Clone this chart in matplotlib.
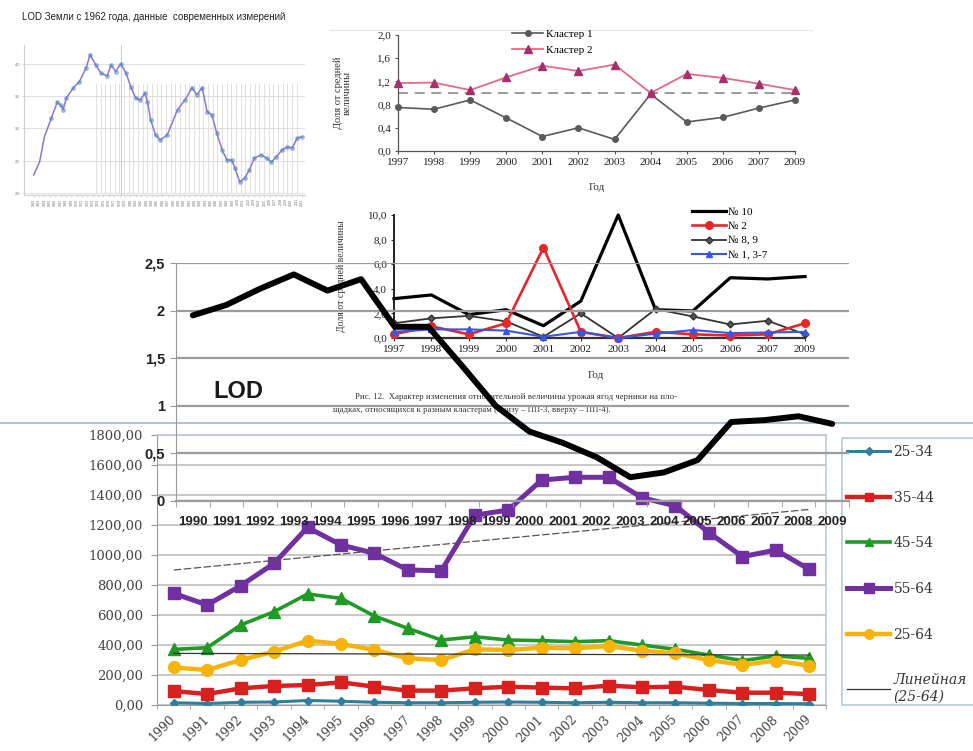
import matplotlib
matplotlib.use('Agg')
import matplotlib.pyplot as plt
import numpy as np
from matplotlib.lines import Line2D
from matplotlib.patches import Rectangle

# ---------------- data ----------------
# top-left picture: LOD since 1962
lod62_years = [1962.0, 1963.1, 1964.0, 1965.3, 1966.4, 1967.0, 1967.5, 1968.1, 1969.4, 1970.5,
               1971.8, 1972.5, 1973.6, 1974.5, 1975.7, 1976.4, 1977.3, 1978.2, 1979.2, 1980.1,
               1981.0, 1981.9, 1982.7, 1983.2, 1983.8, 1984.7, 1985.6, 1986.9, 1988.8, 1990.2,
               1991.5, 1992.4, 1993.4, 1994.3, 1995.2, 1996.1, 1997.1, 1998.0, 1998.9, 1999.5,
               2000.4, 2001.3, 2002.2, 2003.1, 2004.4, 2005.4, 2006.3, 2007.2, 2008.3, 2009.2,
               2010.2, 2011.1, 2012.0]
lod62_vals = [2.28, 2.48, 2.87, 3.16, 3.41, 3.36, 3.29, 3.47, 3.63, 3.72,
              3.94, 4.14, 3.98, 3.86, 3.81, 3.98, 3.88, 4.00, 3.86, 3.64,
              3.47, 3.44, 3.55, 3.41, 3.13, 2.90, 2.82, 2.90, 3.29, 3.44,
              3.63, 3.52, 3.63, 3.26, 3.21, 2.93, 2.67, 2.51, 2.51, 2.39,
              2.17, 2.23, 2.36, 2.54, 2.59, 2.54, 2.48, 2.56, 2.67, 2.71,
              2.70, 2.85, 2.87]
lod62_ticks = [4.0, 3.5, 3.0, 2.5, 2.0]
lod62_ticklabels = ['4,0', '3,5', '3,0', '2,5', '2,0']

# cluster chart
cluster_years = ['1997', '1998', '1999', '2000', '2001', '2002', '2003', '2004', '2005', '2006', '2007', '2009']
cluster1 = [0.75, 0.72, 0.88, 0.57, 0.25, 0.40, 0.20, 0.98, 0.50, 0.58, 0.74, 0.88]
cluster2 = [1.17, 1.18, 1.05, 1.27, 1.47, 1.38, 1.49, 1.00, 1.33, 1.26, 1.16, 1.05]
mean_level = 1.0
cluster_yticks = [0.0, 0.4, 0.8, 1.2, 1.6, 2.0]
cluster_yticklabels = ['0,0', '0,4', '0,8', '1,2', '1,6', '2,0']

# plots chart
plot_years = cluster_years
n10 = [3.2, 3.5, 1.9, 2.3, 1.0, 3.0, 10.0, 2.3, 2.2, 4.9, 4.8, 5.0]
n2 = [0.3, 0.95, 0.3, 1.2, 7.35, 0.5, 0.0, 0.5, 0.3, 0.2, 0.3, 1.2]
n89 = [1.2, 1.6, 1.8, 1.35, 0.1, 2.0, 0.0, 2.35, 1.75, 1.1, 1.4, 0.3]
n137 = [0.5, 0.7, 0.7, 0.6, 0.1, 0.5, 0.0, 0.35, 0.65, 0.4, 0.45, 0.5]
plot_yticks = [0, 2, 4, 6, 8, 10]
plot_yticklabels = ['0,0', '2,0', '4,0', '6,0', '8,0', '10,0']

# LOD 1990-2009
lod_years = [str(y) for y in range(1990, 2010)]
lod = [1.95, 2.06, 2.23, 2.38, 2.21, 2.33, 1.83, 1.83, 1.42, 1.00,
       0.73, 0.61, 0.46, 0.25, 0.30, 0.43, 0.83, 0.85, 0.89, 0.81]
lod_yticks = [0, 0.5, 1, 1.5, 2, 2.5]
lod_yticklabels = ['0', '0,5', '1', '1,5', '2', '2,5']

# age groups
age_years = [str(y) for y in range(1990, 2010)]
a2534 = [15, 10, 18, 20, 30, 25, 18, 15, 15, 18, 20, 18, 15, 18, 15, 15, 12, 10, 10, 8]
a3544 = [93, 73, 111, 127, 133, 151, 122, 96, 96, 111, 122, 116, 111, 129, 118, 122, 100, 82, 82, 73]
a4554 = [371, 382, 533, 622, 740, 711, 593, 511, 433, 455, 433, 429, 422, 429, 400, 371, 333, 296, 327, 311]
a5564 = [744, 667, 795, 944, 1184, 1067, 1011, 900, 895, 1265, 1300, 1500, 1518, 1518, 1382, 1327, 1149, 989, 1033, 904]
a2564 = [251, 233, 300, 356, 429, 407, 367, 311, 300, 371, 367, 382, 378, 393, 362, 344, 300, 267, 296, 262]
trend_2564 = [344, 333]
trend_rise = [900, 1304]
age_yticks = list(range(0, 1801, 200))
age_yticklabels = ['%d,00' % v for v in age_yticks]

# ---------------- figure ----------------
W, H = 973, 751
fig = plt.figure(figsize=(W / 100, H / 100), dpi=100)
fig.patch.set_facecolor('white')
SERIF = ['Liberation Serif', 'DejaVu Serif']
SANS = ['Liberation Sans', 'DejaVu Sans']
DSERIF = ['DejaVu Serif']


def fx(x):
    return x / W


def fy(y):
    return 1 - y / H


def box(l, t, r, b, z=1):
    ax = fig.add_axes([l / W, 1 - b / H, (r - l) / W, (b - t) / H])
    ax.set_zorder(z)
    ax.patch.set_alpha(0)
    return ax


# ---- top-left picture ----
fig.text(fx(22), fy(17), 'LOD Земли с 1962 года, данные  современных измерений',
         family=SANS, fontsize=7, va='center', ha='left', color='#222222')
ax0 = box(24, 45, 305, 195, z=1)
ax0.set_xlim(1960.2, 2012.55)
ax0.set_ylim(1.97, 4.29)
for v in lod62_ticks:
    ax0.axhline(v, color='#e0e0e0', lw=0.8, zorder=0)
ax0.vlines(np.arange(1973.6, 2011.6, 0.87), 2.0, 3.71, color='#dcdcdc', lw=0.6, zorder=0)
ax0.axvline(1978.2, color='#cfcfcf', lw=0.8, zorder=0)
ax0.plot(lod62_years, lod62_vals, color='#8878d4', lw=1.1, zorder=2)
ax0.plot(lod62_years[3:], lod62_vals[3:], 'o', ms=2.6, color='#5b86c4', alpha=0.45, zorder=3)
for s in ['top', 'right']:
    ax0.spines[s].set_visible(False)
ax0.spines['left'].set_color('#d0d0d0')
ax0.spines['bottom'].set_color('#d0d0d0')
ax0.set_yticks(lod62_ticks)
ax0.set_yticklabels(lod62_ticklabels, fontsize=2.8, color='#777777', family=SANS)
ax0.set_xticks(list(range(1962, 2013)))
ax0.set_xticklabels([str(y) for y in range(1962, 2013)], fontsize=2.3, rotation=90,
                    color='#666666', family=SANS)
ax0.tick_params(length=1.5, width=0.4, color='#bbbbbb', pad=1)

# ---- cluster chart ----
fig.add_artist(Line2D([fx(330), fx(812)], [fy(30), fy(30)], color='#e6e6e6', lw=0.8))
ax1 = box(398, 35, 795, 151, z=2)
x12 = np.arange(len(cluster_years))
ax1.set_xlim(0, 11)
ax1.set_ylim(0, 2.0)
ax1.axhline(mean_level, color='#8a8a8a', lw=1.2, dashes=(6, 4), zorder=1)
ax1.plot(x12, cluster1, color='#5a5a5a', lw=1.2, marker='o', ms=4, clip_on=False, zorder=3,
         label='Кластер 1')
ax1.plot(x12, cluster2, color='#e46a85', lw=1.3, marker='^', ms=5.5, mfc='#a8306a', mec='#a8306a',
         clip_on=False, zorder=3, label='Кластер 2')
ax1.set_yticks(cluster_yticks)
ax1.set_yticklabels(cluster_yticklabels, family=SERIF, fontsize=8, color='#222222')
ax1.set_xticks(x12)
ax1.set_xticklabels(cluster_years, family=SERIF, fontsize=8, color='#222222')
ax1.tick_params(length=2.5, width=0.8, color='#555555', pad=2.5)
for s in ['top', 'right']:
    ax1.spines[s].set_visible(False)
for s in ['left', 'bottom']:
    ax1.spines[s].set_color('#555555')
    ax1.spines[s].set_linewidth(0.9)
ax1.set_xlabel('Год', family=SERIF, fontsize=8, color='#333333')
ax1.xaxis.set_label_coords(0.5, -(183 - 151) / 116)
ax1.set_ylabel('Доля от средней\nвеличины', family=SERIF, fontsize=7.5, color='#333333',
               linespacing=1.0)
ax1.yaxis.set_label_coords(-(398 - 352) / 397, 0.5)
ax1.legend(loc='upper left', bbox_to_anchor=(fx(512), fy(29)), bbox_transform=fig.transFigure,
           frameon=False, prop={'family': SERIF, 'size': 8}, handlelength=2.8,
           handletextpad=0.3, labelspacing=0.55, borderpad=0, borderaxespad=0)

# ---- bottom chart (age groups) ----
fig.add_artist(Line2D([0, 1], [fy(423), fy(423)], color='#a9c2db', lw=1.4))
ax4 = fig.add_axes([157 / W, 1 - 705 / H, (826 - 157) / W, (705 - 435) / H])
ax4.set_zorder(3)
ax4.set_facecolor('white')
x20 = np.arange(20)
ax4.set_xlim(-0.5, 19.5)
ax4.set_ylim(0, 1800)
ax4.set_yticks(age_yticks)
ax4.set_yticklabels(age_yticklabels, family=DSERIF, fontsize=9.5, color='#444444')
ax4.set_xticks(x20)
ax4.set_xticklabels(age_years, family=DSERIF, fontsize=9, color='#444444', rotation=45,
                    ha='right', va='center', rotation_mode='anchor')
ax4.set_xticks(np.arange(-0.5, 20, 1), minor=True)
ax4.tick_params(axis='x', which='major', length=0, pad=9)
ax4.tick_params(axis='x', which='minor', length=3, color='#999999')
ax4.tick_params(axis='y', length=4, color='#999999', pad=6)
ax4.grid(axis='y', color='#c4c4c4', lw=1.3)
ax4.set_axisbelow(True)
for s in ['top', 'right']:
    ax4.spines[s].set_color('#b4c9de')
    ax4.spines[s].set_linewidth(1.2)
for s in ['left', 'bottom']:
    ax4.spines[s].set_color('#9a9a9a')
ax4.plot(x20, a2534, color='#2f7f9c', lw=2.2, marker='D', ms=4.5, label='25-34', zorder=3)
ax4.plot(x20, a3544, color='#d8201f', lw=3.2, marker='s', ms=8, label='35-44', zorder=3)
ax4.plot(x20, a4554, color='#1f9a24', lw=2.6, marker='^', ms=8, label='45-54', zorder=3)
ax4.plot(x20, a5564, color='#7030a0', lw=3.6, marker='s', ms=8.5, label='55-64', zorder=3)
ax4.plot(x20, a2564, color='#f6b40a', lw=3.2, marker='o', ms=8.5, label='25-64', zorder=3)
ax4.plot([0, 19], trend_2564, color='#333333', lw=0.9, label='Линейная\n(25-64)', zorder=4)
ax4.plot([0, 19], trend_rise, color='#555555', lw=0.9, dashes=(6, 2), zorder=4)

fig.add_artist(Rectangle((fx(842), fy(705)), (980 - 842) / W, (705 - 438) / H,
                         transform=fig.transFigure, facecolor='white', edgecolor='#b4c9de',
                         lw=1.2, zorder=0.5))
leg = ax4.legend(loc='upper left', bbox_to_anchor=(fx(847), fy(445)), bbox_transform=fig.transFigure,
                 frameon=False, prop={'family': DSERIF, 'size': 10}, handlelength=3.1,
                 handletextpad=0.25, labelspacing=2.28, borderpad=0, borderaxespad=0,
                 markerscale=0.8)
for t in leg.get_texts():
    t.set_color('#333333')
leg.get_texts()[-1].set_style('italic')
leg.set_zorder(10)

# ---- plots chart (middle) ----
ax2 = box(394, 215, 805, 338, z=4)
ax2.set_xlim(0, 11)
ax2.set_ylim(0, 10)
ax2.plot(x12, n10, color='black', lw=2.3, clip_on=False, zorder=3, label='№ 10')
ax2.plot(x12, n89, color='#333333', lw=1.3, marker='D', ms=3.5, mfc='#555555', clip_on=False,
         zorder=3, label='№ 8, 9')
ax2.plot(x12, n2, color='#e8262a', lw=1.9, marker='o', ms=5.5, clip_on=False, zorder=4, label='№ 2')
ax2.plot(x12, n137, color='#3a56e0', lw=1.5, marker='^', ms=5, clip_on=False, zorder=5,
         label='№ 1, 3-7')
ax2.set_yticks(plot_yticks)
ax2.set_yticklabels(plot_yticklabels, family=SERIF, fontsize=8, color='#222222')
ax2.set_xticks(x12)
ax2.set_xticklabels(plot_years, family=SERIF, fontsize=8, color='#222222')
ax2.tick_params(length=2, width=0.8, color='#333333', pad=3)
for s in ['top', 'right']:
    ax2.spines[s].set_visible(False)
ax2.spines['left'].set_color('#222222')
ax2.spines['left'].set_linewidth(1.4)
ax2.spines['bottom'].set_color('#333333')
ax2.spines['bottom'].set_linewidth(1.6)
ax2.set_xlabel('Год', family=SERIF, fontsize=8, color='#333333')
ax2.xaxis.set_label_coords(0.49, -(371 - 338) / 123)
ax2.set_ylabel('Доля от средней величины', family=SERIF, fontsize=7, color='#333333')
ax2.yaxis.set_label_coords(-(394 - 346) / 411, 0.5)
h, l = ax2.get_legend_handles_labels()
order = [0, 2, 1, 3]
ax2.legend([h[i] for i in order], [l[i] for i in order], loc='upper left',
           bbox_to_anchor=(fx(692), fy(207)), bbox_transform=fig.transFigure, frameon=False,
           prop={'family': SERIF, 'size': 8}, handlelength=3.1, handletextpad=0.1,
           labelspacing=0.42, borderpad=0, borderaxespad=0)
fig.text(fx(355), fy(397),
         'Рис. 12.  Характер изменения относительной величины урожая ягод черники на пло-',
         family=SERIF, fontsize=6.3, color='#333333', va='center', ha='left', zorder=4)
fig.text(fx(333), fy(410),
         'щадках, относящихся к разным кластерам (внизу – ПП-3, вверху – ПП-4).',
         family=SERIF, fontsize=6.3, color='#333333', va='center', ha='left', zorder=4)

# ---- LOD chart (on top) ----
ax3 = box(176, 263, 849, 501, z=5)
ax3.set_xlim(-0.5, 19.5)
ax3.set_ylim(0, 2.5)
ax3.set_yticks(lod_yticks)
ax3.set_yticklabels(lod_yticklabels, family=SANS, fontsize=10.5, fontweight='bold', color='#222222')
ax3.grid(axis='y', color='#9c9c9c', lw=1.6)
ax3.set_xticks(x20)
ax3.set_xticklabels(lod_years, family=SANS, fontsize=9.5, fontweight='bold', color='#222222')
ax3.set_xticks(np.arange(-0.5, 20, 1), minor=True)
ax3.tick_params(axis='x', which='major', length=0, pad=11)
ax3.tick_params(axis='x', which='minor', length=4, color='#999999')
ax3.tick_params(axis='y', length=4, color='#999999', pad=4)
for s in ['top', 'right']:
    ax3.spines[s].set_visible(False)
ax3.spines['left'].set_color('#999999')
ax3.spines['bottom'].set_color('#9c9c9c')
ax3.spines['bottom'].set_linewidth(1.6)
ax3.plot(x20, lod, color='black', lw=4.3, solid_joinstyle='round', solid_capstyle='round',
         zorder=5, clip_on=False)
ax3.text(0.092, 0.46, 'LOD', transform=ax3.transAxes, family=SANS, fontsize=17,
         fontweight='bold', color='#1a1a1a', ha='center', va='center')

fig.savefig('out.png', dpi=100, facecolor='white')
